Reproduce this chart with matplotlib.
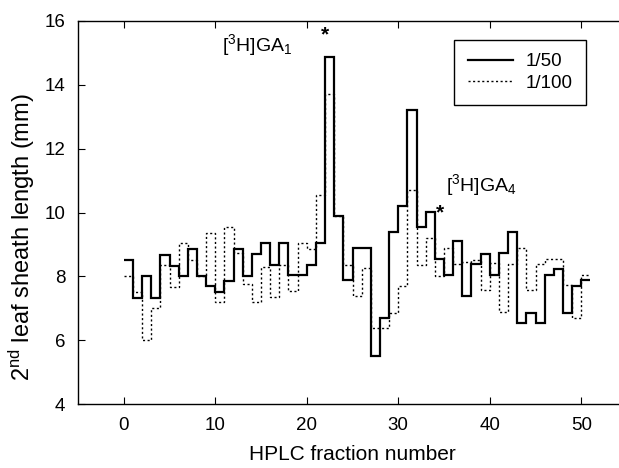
import numpy as np
import matplotlib
matplotlib.use("Agg")
import matplotlib.pyplot as plt

plt.rcParams['font.family'] = ['Liberation Sans', 'DejaVu Sans']
plt.rcParams['mathtext.fontset'] = 'custom'
plt.rcParams['mathtext.rm'] = 'Liberation Sans'
plt.rcParams['mathtext.it'] = 'Liberation Sans'

fractions = np.arange(0, 52)  # step edges 0..51

sol_50 = [8.5, 7.33, 8.0, 7.33, 8.68, 8.34, 8.0, 8.87, 8.0, 7.7,
          7.53, 7.85, 8.87, 8.0, 8.7, 9.05, 8.37, 9.05, 8.04, 8.04,
          8.37, 9.05, 14.86, 9.88, 7.88, 8.89, 8.89, 5.52, 6.7, 9.38,
          10.21, 13.21, 9.55, 10.03, 8.54, 8.04, 9.1, 7.38, 8.4, 8.71,
          8.04, 8.72, 9.38, 6.54, 6.87, 6.54, 8.06, 8.22, 6.87, 7.71,
          7.89]

sol_100 = [8.0, 7.5, 6.0, 7.0, 8.35, 7.68, 9.04, 8.5, 8.0, 9.37,
           7.19, 9.54, 8.75, 7.75, 7.2, 8.3, 7.35, 8.35, 7.55, 9.04,
           8.85, 10.55, 13.7, 9.88, 8.37, 7.38, 8.25, 6.4, 6.4, 6.86,
           7.69, 10.7, 8.37, 9.2, 8.02, 8.9, 8.4, 8.45, 8.5, 7.58,
           8.42, 6.88, 8.4, 8.89, 7.58, 8.4, 8.54, 8.54, 7.72, 6.7,
           8.05]

series_labels = ['1/50', '1/100']

fig = plt.figure(figsize=(6.19, 4.68), dpi=100)
ax = fig.add_axes([0.126, 0.136, 0.887, 0.8197])

ax.stairs(sol_50, fractions, baseline=None, color='black', lw=1.6,
          label=series_labels[0])
ax.stairs(sol_100, fractions, baseline=None, color='black', lw=1.0,
          linestyle=(0, (1.5, 1.8)), label=series_labels[1])

ax.set_xlim(-5, 55)
ax.set_ylim(4, 16)
ax.set_xticks(np.arange(0, 51, 10))
ax.set_yticks(np.arange(4, 17, 2))
ax.tick_params(direction='in', length=5, width=0.8, top=True, right=True,
               labelsize=13.5, pad=9)
for s in ax.spines.values():
    s.set_linewidth(1.0)

ax.set_xlabel('HPLC fraction number', fontsize=15, labelpad=8)
ax.set_ylabel(r'2$^{\mathrm{nd}}$ leaf sheath length (mm)', fontsize=17)
ax.yaxis.set_label_coords(-0.074, 0.435)

ax.text(10.7, 15.25, r'[$^{3}$H]GA$_{1}$', fontsize=14, ha='left', va='center')
ax.text(22.0, 15.55, '*', fontsize=15, ha='center', va='center', fontweight='bold')
ax.text(35.2, 10.87, r'[$^{3}$H]GA$_{4}$', fontsize=14, ha='left', va='center')
ax.text(34.6, 10.0, '*', fontsize=15, ha='center', va='center', fontweight='bold')

leg = ax.legend(loc='upper right', bbox_to_anchor=(0.925, 0.95), borderaxespad=0,
                fontsize=13.5, fancybox=False, edgecolor='black', framealpha=1,
                handlelength=2.4, handletextpad=0.7, borderpad=0.7, labelspacing=0.25)
leg.get_frame().set_linewidth(1.0)

fig.savefig('out.png', dpi=100)
